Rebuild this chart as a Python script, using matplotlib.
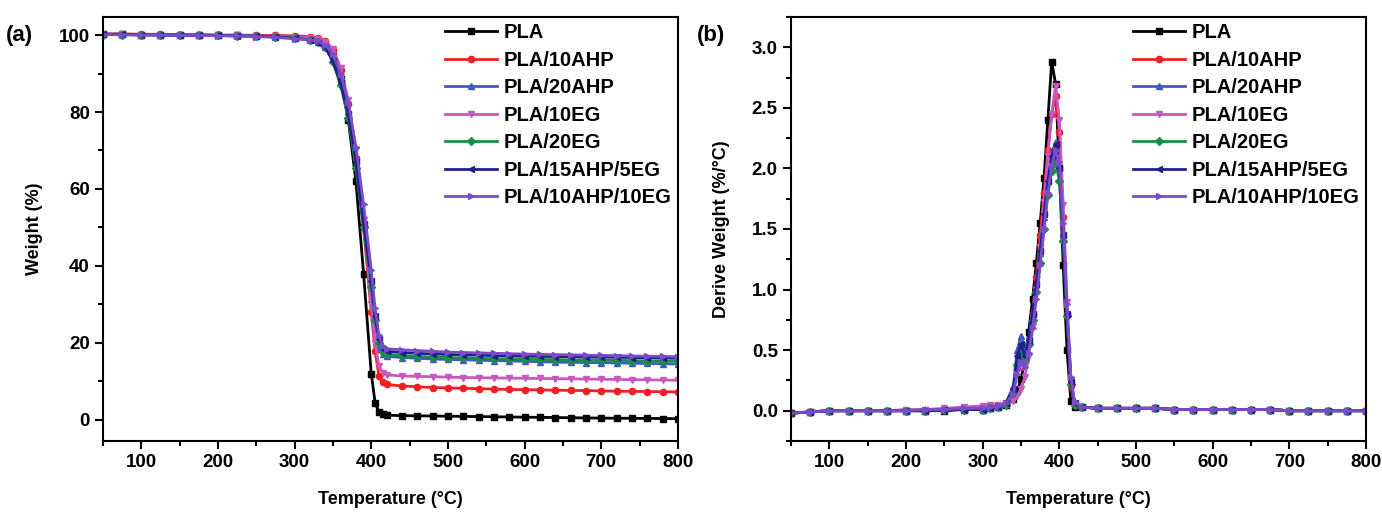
import matplotlib
matplotlib.use('Agg')
import matplotlib.pyplot as plt
from matplotlib.ticker import MultipleLocator

plt.rcParams['font.family'] = ['Liberation Sans', 'DejaVu Sans']
plt.rcParams['font.weight'] = 'bold'
plt.rcParams['axes.labelweight'] = 'bold'

labels = ['PLA', 'PLA/10AHP', 'PLA/20AHP', 'PLA/10EG', 'PLA/20EG',
          'PLA/15AHP/5EG', 'PLA/10AHP/10EG']
colors = ['#000000', '#f02020', '#4058c0', '#c858c0', '#149040',
          '#20208a', '#7a4cc8']
markers = ['s', 'o', '^', 'v', 'D', '<', '>']

# (a) TGA curves
T_tga = [50, 75, 100, 125, 150, 175, 200, 225, 250, 275, 300,
         320, 330, 340, 350, 360, 370, 380, 390, 400, 405, 410, 415,
         420, 440, 460, 480, 500, 520, 540, 560, 580, 600, 620, 640,
         660, 680, 700, 720, 740, 760, 780, 800]

w_pla = [100.2, 100.2, 100.1, 100.1, 100.0, 100.0, 99.9, 99.9, 99.8, 99.7, 99.5,
         99.2, 98.6, 97.3, 94.5, 88.5, 78.0, 62.0, 38.0, 12.0, 4.5, 2.0, 1.4,
         1.2, 1.1, 1.05, 1.0, 0.95, 0.9, 0.85, 0.8, 0.75, 0.7, 0.65, 0.6,
         0.55, 0.5, 0.45, 0.42, 0.4, 0.37, 0.35, 0.3]
w_10ahp = [100.3, 100.3, 100.2, 100.2, 100.1, 100.1, 100.0, 100.0, 99.9, 99.9, 99.8,
           99.6, 99.3, 98.5, 96.0, 91.0, 82.0, 68.0, 50.0, 28.0, 18.0, 11.5, 9.8,
           9.2, 8.8, 8.6, 8.4, 8.3, 8.2, 8.1, 8.0, 7.9, 7.85, 7.8, 7.7,
           7.65, 7.6, 7.5, 7.45, 7.4, 7.35, 7.3, 7.25]
w_20ahp = [100.2, 100.2, 100.1, 100.1, 100.0, 100.0, 99.9, 99.9, 99.8, 99.6, 99.3,
           98.8, 98.2, 97.0, 93.5, 87.5, 79.0, 66.0, 50.0, 34.0, 25.0, 19.0, 17.0,
           16.5, 16.2, 16.0, 15.8, 15.7, 15.6, 15.5, 15.4, 15.3, 15.2, 15.1, 15.0,
           14.95, 14.9, 14.85, 14.8, 14.7, 14.65, 14.6, 14.5]
w_10eg = [100.2, 100.2, 100.1, 100.1, 100.0, 100.0, 99.9, 99.9, 99.8, 99.7, 99.5,
          99.3, 99.0, 98.3, 96.5, 91.5, 83.0, 70.0, 52.0, 30.0, 20.0, 14.0, 12.2,
          11.7, 11.4, 11.3, 11.2, 11.1, 11.0, 10.95, 10.9, 10.85, 10.8, 10.75, 10.7,
          10.65, 10.6, 10.55, 10.5, 10.45, 10.4, 10.35, 10.3]
w_20eg = [100.1, 100.1, 100.0, 100.0, 100.0, 99.9, 99.9, 99.8, 99.7, 99.6, 99.3,
          98.8, 98.1, 97.0, 93.0, 87.0, 78.5, 65.5, 50.0, 34.5, 26.0, 20.0, 17.6,
          17.0, 16.7, 16.5, 16.3, 16.2, 16.1, 16.0, 15.9, 15.8, 15.75, 15.7, 15.65,
          15.6, 15.55, 15.5, 15.45, 15.4, 15.35, 15.3, 15.25]
w_15ahp5eg = [100.2, 100.2, 100.1, 100.0, 100.0, 99.9, 99.9, 99.8, 99.7, 99.5, 99.2,
              98.7, 98.0, 96.8, 93.2, 87.5, 79.5, 67.0, 51.0, 36.0, 27.0, 21.0, 18.5,
              17.8, 17.5, 17.3, 17.1, 17.0, 16.9, 16.8, 16.7, 16.6, 16.55, 16.5, 16.45,
              16.4, 16.35, 16.3, 16.25, 16.2, 16.15, 16.1, 16.0]
w_10ahp10eg = [100.1, 100.1, 100.0, 100.0, 99.9, 99.9, 99.8, 99.7, 99.6, 99.4, 99.0,
               98.8, 98.4, 97.5, 95.0, 90.0, 82.5, 71.0, 56.0, 39.0, 29.0, 22.0, 19.2,
               18.5, 18.2, 18.0, 17.8, 17.6, 17.5, 17.4, 17.3, 17.2, 17.1, 17.0, 16.95,
               16.9, 16.8, 16.75, 16.7, 16.6, 16.55, 16.5, 16.4]

# (b) DTG curves
T_dtg = [50, 75, 100, 125, 150, 175, 200, 225, 250, 275, 300,
         310, 320, 330, 340,
         345, 350, 355, 360, 365, 370, 375, 380, 385, 390, 395, 400, 405, 410, 415, 420,
         430, 450, 475, 500, 525, 550, 575, 600, 625, 650, 675, 700, 725, 750, 775, 800]

d_pla = [-0.02, -0.01, 0.0, 0.0, 0.0, 0.0, 0.0, 0.0, 0.0, 0.01, 0.01,
         0.02, 0.03, 0.05, 0.10,
         0.16, 0.26, 0.42, 0.65, 0.92, 1.22, 1.55, 1.92, 2.40, 2.88, 2.70, 2.00, 1.20, 0.50, 0.08, 0.03,
         0.03, 0.02, 0.02, 0.02, 0.02, 0.01, 0.01, 0.01, 0.01, 0.01, 0.01, 0.0, 0.0, 0.0, 0.0, 0.0]
d_10ahp = [-0.02, -0.01, 0.0, 0.0, 0.0, 0.0, 0.0, 0.01, 0.01, 0.01, 0.02,
           0.03, 0.04, 0.06, 0.15,
           0.35, 0.45, 0.40, 0.55, 0.80, 1.10, 1.45, 1.80, 2.15, 2.45, 2.60, 2.30, 1.60, 0.80, 0.20, 0.05,
           0.03, 0.02, 0.02, 0.02, 0.02, 0.01, 0.01, 0.01, 0.01, 0.01, 0.01, 0.0, 0.0, 0.0, 0.0, 0.0]
d_20ahp = [-0.02, -0.01, 0.0, 0.0, 0.0, 0.0, 0.0, 0.0, 0.01, 0.01, 0.01,
           0.02, 0.03, 0.06, 0.20,
           0.50, 0.62, 0.50, 0.60, 0.80, 1.05, 1.30, 1.60, 1.90, 2.12, 2.22, 2.00, 1.45, 0.80, 0.25, 0.06,
           0.03, 0.02, 0.02, 0.02, 0.02, 0.01, 0.01, 0.01, 0.01, 0.01, 0.01, 0.0, 0.0, 0.0, 0.0, 0.0]
d_10eg = [-0.02, -0.01, 0.0, 0.0, 0.0, 0.0, 0.01, 0.01, 0.02, 0.03, 0.04,
          0.05, 0.05, 0.05, 0.08,
          0.12, 0.18, 0.28, 0.45, 0.70, 1.00, 1.35, 1.72, 2.10, 2.45, 2.68, 2.40, 1.70, 0.90, 0.25, 0.06,
          0.03, 0.02, 0.02, 0.02, 0.02, 0.01, 0.01, 0.01, 0.01, 0.01, 0.01, 0.0, 0.0, 0.0, 0.0, 0.0]
d_20eg = [-0.02, -0.01, 0.0, 0.0, 0.0, 0.0, 0.0, 0.0, 0.01, 0.01, 0.01,
          0.02, 0.03, 0.05, 0.15,
          0.38, 0.48, 0.42, 0.55, 0.75, 0.98, 1.22, 1.50, 1.78, 1.98, 2.05, 1.90, 1.40, 0.78, 0.22, 0.05,
          0.03, 0.02, 0.02, 0.02, 0.02, 0.01, 0.01, 0.01, 0.01, 0.01, 0.01, 0.0, 0.0, 0.0, 0.0, 0.0]
d_15ahp5eg = [-0.02, -0.01, 0.0, 0.0, 0.0, 0.0, 0.0, 0.0, 0.01, 0.01, 0.01,
              0.02, 0.03, 0.06, 0.18,
              0.45, 0.55, 0.45, 0.58, 0.80, 1.05, 1.32, 1.62, 1.90, 2.10, 2.20, 2.00, 1.45, 0.80, 0.24, 0.06,
              0.03, 0.02, 0.02, 0.02, 0.02, 0.01, 0.01, 0.01, 0.01, 0.01, 0.01, 0.0, 0.0, 0.0, 0.0, 0.0]
d_10ahp10eg = [-0.02, -0.01, 0.0, 0.0, 0.0, 0.0, 0.0, 0.01, 0.01, 0.02, 0.02,
               0.03, 0.04, 0.06, 0.14,
               0.30, 0.40, 0.36, 0.48, 0.68, 0.92, 1.20, 1.50, 1.80, 2.02, 2.15, 2.05, 1.55, 0.88, 0.28, 0.07,
               0.03, 0.02, 0.02, 0.02, 0.02, 0.01, 0.01, 0.01, 0.01, 0.01, 0.01, 0.0, 0.0, 0.0, 0.0, 0.0]

tga = [w_pla, w_10ahp, w_20ahp, w_10eg, w_20eg, w_15ahp5eg, w_10ahp10eg]
dtg = [d_pla, d_10ahp, d_20ahp, d_10eg, d_20eg, d_15ahp5eg, d_10ahp10eg]

fig = plt.figure(figsize=(13.82, 5.14), dpi=100)
ax1 = fig.add_axes([0.0745, 0.142, 0.416, 0.825])
ax2 = fig.add_axes([0.5724, 0.142, 0.416, 0.825])

for ys, c, m, lab in zip(tga, colors, markers, labels):
    ax1.plot(T_tga, ys, color=c, marker=m, markersize=4.5, lw=2, label=lab)
for ys, c, m, lab in zip(dtg, colors, markers, labels):
    ax2.plot(T_dtg, ys, color=c, marker=m, markersize=4.5, lw=2, label=lab)

ax1.set_xlim(50, 800)
ax1.set_ylim(-5.5, 104.7)
ax1.yaxis.set_major_locator(MultipleLocator(20))
ax1.yaxis.set_minor_locator(MultipleLocator(10))
ax1.set_ylabel('Weight (%)', fontsize=13, labelpad=11)

ax2.set_xlim(50, 800)
ax2.set_ylim(-0.25, 3.25)
ax2.yaxis.set_major_locator(MultipleLocator(0.5))
ax2.yaxis.set_minor_locator(MultipleLocator(0.25))
ax2.set_ylabel('Derive Weight (%/°C)', fontsize=13, labelpad=16)

for ax in (ax1, ax2):
    ax.xaxis.set_major_locator(MultipleLocator(100))
    ax.xaxis.set_minor_locator(MultipleLocator(50))
    ax.set_xlabel('Temperature (°C)', fontsize=13, labelpad=14)
    ax.tick_params(which='major', direction='out', length=6, width=1.5, labelsize=13.5)
    ax.tick_params(which='minor', direction='out', length=3.5, width=1.5)
    for s in ax.spines.values():
        s.set_linewidth(1.5)
    ax.legend(loc='upper left', bbox_to_anchor=(0.595, 0.985), frameon=False,
              fontsize=14.5, handlelength=2.6, handletextpad=0.3,
              labelspacing=0.42, borderpad=0, borderaxespad=0, numpoints=1)

fig.text(0.004, 0.92, '(a)', fontsize=16, fontweight='bold')
fig.text(0.504, 0.92, '(b)', fontsize=16, fontweight='bold')

fig.savefig('out.png', dpi=100)
